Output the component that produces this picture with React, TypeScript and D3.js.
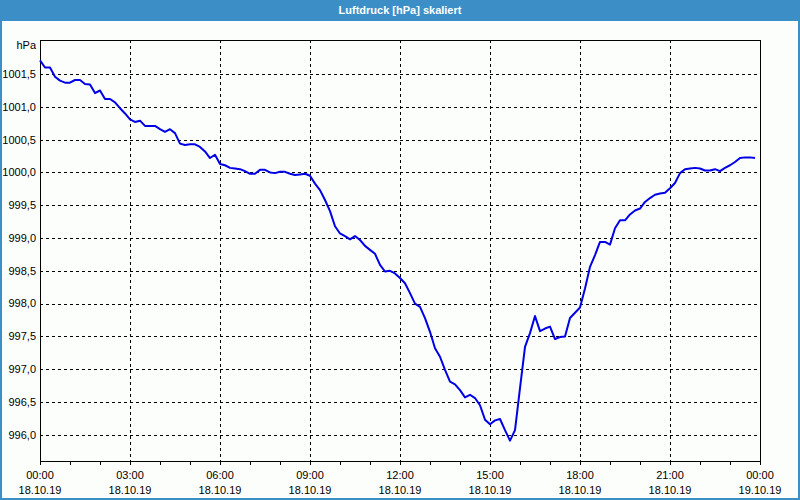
import React, { useEffect, useRef } from 'react';
import * as d3 from 'd3';

// Luftdruck, 10-Minuten-Werte ab 18.10.19 00:00
const startTime = new Date(2019, 9, 18, 0, 0);
const endTime = new Date(2019, 9, 19, 0, 0);
const stepMinutes = 10;

const pressure = [
  1001.71, 1001.6, 1001.6, 1001.46, 1001.4, 1001.37, 1001.37, 1001.41, 1001.41, 1001.35,
  1001.34, 1001.21, 1001.25, 1001.12, 1001.12, 1001.07, 1000.98, 1000.9, 1000.81, 1000.77,
  1000.79, 1000.71, 1000.71, 1000.71, 1000.66, 1000.62, 1000.66, 1000.6, 1000.44, 1000.42,
  1000.43, 1000.43, 1000.39, 1000.32, 1000.22, 1000.27, 1000.13, 1000.11, 1000.07, 1000.06,
  1000.05, 1000.02, 999.98, 999.98, 1000.04, 1000.04, 1000.0, 999.99, 1000.01, 1000.01,
  999.98, 999.96, 999.97, 999.98, 999.95, 999.83, 999.73, 999.58, 999.41, 999.18,
  999.07, 999.03, 998.98, 999.03, 998.97, 998.88, 998.82, 998.76, 998.59, 998.49,
  998.5, 998.46, 998.39, 998.31, 998.16, 998.0, 997.95, 997.78, 997.57, 997.32,
  997.19, 996.99, 996.81, 996.77, 996.68, 996.57, 996.61, 996.56, 996.45, 996.23,
  996.16, 996.22, 996.24, 996.07, 995.91, 996.07, 996.71, 997.34, 997.55, 997.81,
  997.58, 997.62, 997.65, 997.46, 997.49, 997.5, 997.78, 997.86, 997.94, 998.23,
  998.56, 998.74, 998.94, 998.94, 998.9, 999.15, 999.27, 999.27, 999.36, 999.42,
  999.45, 999.55, 999.61, 999.66, 999.68, 999.69, 999.76, 999.84, 999.99, 1000.05,
  1000.06, 1000.07, 1000.06, 1000.03, 1000.03, 1000.05, 1000.02, 1000.07, 1000.11, 1000.16,
  1000.22, 1000.23, 1000.23, 1000.22,
];

const yTicks = [996, 996.5, 997, 997.5, 998, 998.5, 999, 999.5, 1000, 1000.5, 1001, 1001.5];
const yDomain: [number, number] = [995.6, 1002.02];

const title = 'Luftdruck [hPa] skaliert';
const unit = 'hPa';

const App: React.FC = () => {
  const svgRef = useRef<SVGSVGElement>(null);

  useEffect(() => {
    document.body.style.margin = '0';
    if (!svgRef.current) return;

    const W = 800;
    const H = 500;
    const margin = { top: 40, right: 40, bottom: 39, left: 40 };
    const width = W - margin.left - margin.right;
    const height = H - margin.top - margin.bottom;
    const font = '"Liberation Sans", Arial, sans-serif';

    d3.select(svgRef.current).selectAll('*').remove();

    const root = d3.select(svgRef.current)
      .attr('width', W)
      .attr('height', H);

    // Frame and title bar
    root.append('rect')
      .attr('x', 0).attr('y', 0).attr('width', W).attr('height', H)
      .attr('fill', '#3c8fc6');
    root.append('rect')
      .attr('x', 2).attr('y', 21).attr('width', W - 4).attr('height', H - 23)
      .attr('fill', '#fcfefc');
    root.append('text')
      .attr('x', W / 2)
      .attr('y', 14)
      .attr('text-anchor', 'middle')
      .attr('fill', '#ffffff')
      .style('font-family', font)
      .style('font-size', '11px')
      .style('font-weight', 'bold')
      .text(title);

    const data = pressure.map((v, i) => ({
      t: new Date(startTime.getTime() + i * stepMinutes * 60000),
      v,
    }));

    const svg = root.append('g')
      .attr('transform', `translate(${margin.left},${margin.top})`);

    const x = d3.scaleTime().domain([startTime, endTime]).range([0, width]);
    const y = d3.scaleLinear().domain(yDomain).range([height, 0]);

    const majorTicks = d3.timeHour.every(3)!.range(startTime, d3.timeHour.offset(endTime, 1));
    const minorTicks = d3.timeHour.range(startTime, d3.timeHour.offset(endTime, 1));

    // Grid
    svg.append('g')
      .selectAll('line')
      .data(yTicks)
      .join('line')
      .attr('x1', 0)
      .attr('x2', width)
      .attr('y1', d => Math.round(y(d)) + 0.5)
      .attr('y2', d => Math.round(y(d)) + 0.5)
      .attr('stroke', '#000')
      .attr('stroke-dasharray', '3,3');

    svg.append('g')
      .selectAll('line')
      .data(majorTicks.filter(d => +d > +startTime && +d < +endTime))
      .join('line')
      .attr('x1', d => Math.round(x(d)) + 0.5)
      .attr('x2', d => Math.round(x(d)) + 0.5)
      .attr('y1', 0)
      .attr('y2', height)
      .attr('stroke', '#000')
      .attr('stroke-dasharray', '3,3');

    // Plot border
    svg.append('rect')
      .attr('x', 0.5).attr('y', 0.5)
      .attr('width', width).attr('height', height)
      .attr('fill', 'none')
      .attr('stroke', '#000');

    // Hour ticks below axis
    svg.append('g')
      .selectAll('line')
      .data(minorTicks)
      .join('line')
      .attr('x1', d => Math.round(x(d)) + 0.5)
      .attr('x2', d => Math.round(x(d)) + 0.5)
      .attr('y1', height)
      .attr('y2', height + 4)
      .attr('stroke', '#000');

    // Line
    const line = d3.line<{ t: Date; v: number }>()
      .x(d => x(d.t))
      .y(d => y(d.v));

    svg.append('path')
      .datum(data)
      .attr('d', line)
      .attr('fill', 'none')
      .attr('stroke', '#0000e6')
      .attr('stroke-width', 2)
      .attr('stroke-linejoin', 'round');

    // Y labels
    const fmt = d3.format('.1f');
    svg.append('g')
      .selectAll('text')
      .data(yTicks)
      .join('text')
      .attr('x', -4)
      .attr('y', d => y(d))
      .attr('dy', '0.35em')
      .attr('text-anchor', 'end')
      .style('font-family', font)
      .style('font-size', '11px')
      .attr('fill', '#000')
      .text(d => fmt(d).replace('.', ','));

    svg.append('text')
      .attr('x', -4)
      .attr('y', 9)
      .attr('text-anchor', 'end')
      .style('font-family', font)
      .style('font-size', '11px')
      .attr('fill', '#000')
      .text(unit);

    // X labels
    const timeFmt = d3.timeFormat('%H:%M');
    const dateFmt = d3.timeFormat('%d.%m.%y');
    const xl = svg.append('g')
      .selectAll('g')
      .data(majorTicks)
      .join('g')
      .attr('transform', d => `translate(${x(d)},${height})`);
    xl.append('text')
      .attr('y', 18)
      .attr('text-anchor', 'middle')
      .style('font-family', font)
      .style('font-size', '11px')
      .attr('fill', '#000')
      .text(d => timeFmt(d));
    xl.append('text')
      .attr('y', 33)
      .attr('text-anchor', 'middle')
      .style('font-family', font)
      .style('font-size', '11px')
      .attr('fill', '#000')
      .text(d => dateFmt(d));
  }, []);

  return <svg ref={svgRef} style={{ display: 'block' }}></svg>;
};

export default App;
